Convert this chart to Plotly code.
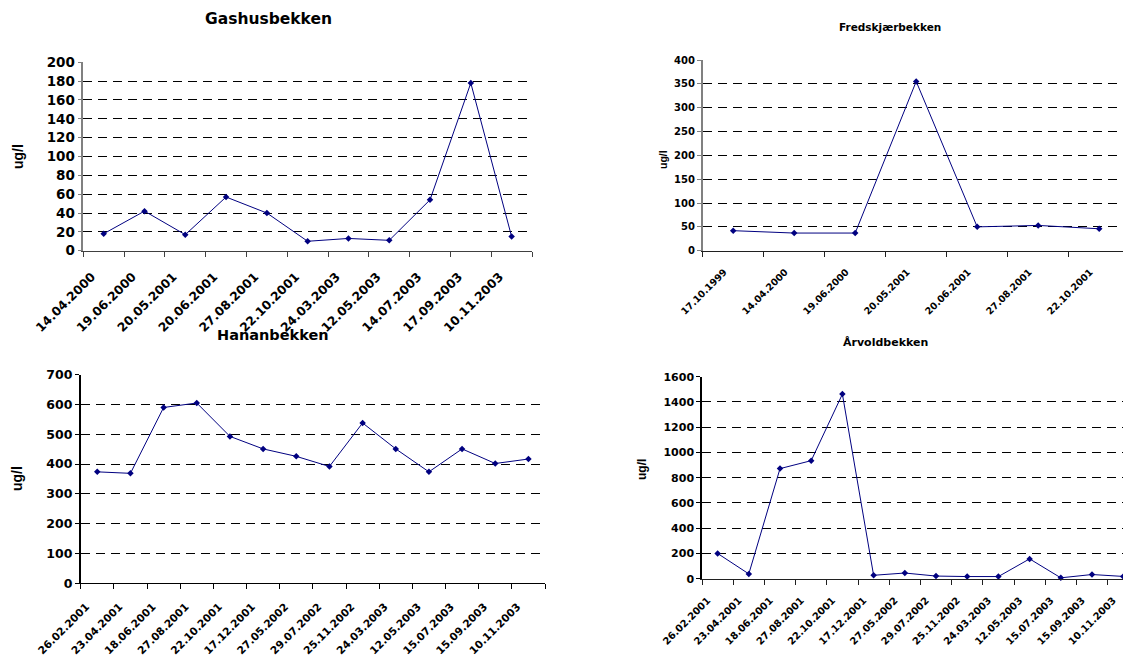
import plotly.graph_objects as go

# page body has an 8px margin, so the figure is drawn 8px in from the window corner
OX, OY = 8, 8
W, H = 1131 - OX, 657 - OY

# ---------------- data ----------------
gas_dates = ["14.04.2000", "19.06.2000", "20.05.2001", "20.06.2001", "27.08.2001", "22.10.2001",
             "24.03.2003", "12.05.2003", "14.07.2003", "17.09.2003", "10.11.2003"]
gas_vals = [18, 42, 17, 57, 40, 10, 13, 11, 54, 178, 15]

fred_dates = ["17.10.1999", "14.04.2000", "19.06.2000", "20.05.2001", "20.06.2001", "27.08.2001", "22.10.2001"]
fred_vals = [42, 37, 37, 355, 50, 53, 46]

hanan_dates = ["26.02.2001", "23.04.2001", "18.06.2001", "27.08.2001", "22.10.2001", "17.12.2001",
               "27.05.2002", "29.07.2002", "25.11.2002", "24.03.2003", "12.05.2003", "15.07.2003",
               "15.09.2003", "10.11.2003"]
hanan_vals = [374, 369, 590, 605, 493, 451, 426, 392, 538, 451, 374, 451, 402, 417]

arv_dates = ["26.02.2001", "23.04.2001", "18.06.2001", "27.08.2001", "22.10.2001", "17.12.2001",
             "27.05.2002", "29.07.2002", "25.11.2002", "24.03.2003", "12.05.2003", "15.07.2003",
             "15.09.2003", "10.11.2003"]
arv_vals = [200, 38, 872, 935, 1462, 27, 45, 21, 17, 17, 157, 7, 33, 18]

titles = ["Gashusbekken", "Fredskjærbekken", "Hananbekken", "Årvoldbekken"]
y_title = "ug/l"

# ---------------- layout helpers (window pixel coords -> paper fractions) ----------------
def px_x(x):
    return (x - OX) / W

def px_y(y):
    return 1 - (y - OY) / H

def xd(a, b):
    return [max(px_x(a), 0.0), min(px_x(b), 1.0)]

def yd(top, bottom):
    return [px_y(bottom), px_y(top)]

FONT = "DejaVu Sans"
NAVY = "#000080"

panels = [
    dict(cats=gas_dates, vals=gas_vals, xdom=(83.3, 532), ydom=(62.3, 250.7), yr=200, dt=20,
         xr=[-0.5, 10.5], fx=12.3, fy=13.5, ycol="#808080", xcol="#404040", shift=-12, stand=13),
    dict(cats=fred_dates, vals=fred_vals, xdom=(702.7, 1129.7), ydom=(60, 250.7), yr=400, dt=50,
         xr=[-0.5, 6.5], fx=9.5, fy=10, ycol="#808080", xcol="#202020", shift=-9, stand=11),
    dict(cats=hanan_dates, vals=hanan_vals, xdom=(80.7, 545), ydom=(374.7, 583.3), yr=700, dt=100,
         xr=[-0.5, 13.5], fx=10.6, fy=12.5, ycol="#000000", xcol="#000000", shift=-11, stand=12),
    dict(cats=arv_dates, vals=arv_vals, xdom=(702, 1131), ydom=(376.7, 578.7), yr=1600, dt=200,
         xr=[-0.5, 13.25], fx=9.9, fy=11, ycol="#000000", xcol="#202020", shift=-10, stand=11),
]

fig = go.Figure()
layout = dict(template="none", width=W, height=H, margin=dict(l=0, r=0, t=0, b=0, autoexpand=False),
              paper_bgcolor="white", plot_bgcolor="white", showlegend=False)

for i, p in enumerate(panels):
    n = "" if i == 0 else str(i + 1)
    fig.add_trace(go.Scatter(
        x=p["cats"], y=p["vals"], mode="lines+markers",
        line=dict(color=NAVY, width=1),
        marker=dict(symbol="diamond", size=5, color=NAVY),
        xaxis="x" + n, yaxis="y" + n, cliponaxis=False))
    layout["xaxis" + n] = dict(
        domain=xd(*p["xdom"]), anchor="y" + n, type="category", automargin=False,
        range=p["xr"], showgrid=False, zeroline=False,
        showline=True, linecolor=p["xcol"], linewidth=1.2,
        ticks="outside", tickson="boundaries", ticklen=5, tickcolor=p["xcol"],
        tickangle=-45, ticklabelshift=p["shift"], ticklabelstandoff=p["stand"],
        tickfont=dict(family=FONT, size=p["fx"], color="#000000", weight="bold"))
    layout["yaxis" + n] = dict(
        domain=yd(*p["ydom"]), anchor="x" + n, range=[0, p["yr"]], dtick=p["dt"], automargin=False,
        showgrid=True, gridcolor="#000000", gridwidth=1, griddash="9px,6px",
        zeroline=False, showline=True, linecolor=p["ycol"], linewidth=1.5,
        ticks="outside", ticklen=4, tickcolor=p["ycol"],
        tickfont=dict(family=FONT, size=p["fy"], color="#000000", weight="bold"))

annotations = []
title_pos = [(268, 19, 15.5), (890, 27, 10.5), (273, 335, 14.5), (885, 342, 11)]
for t, (x, y, s) in zip(titles, title_pos):
    annotations.append(dict(text=t, x=px_x(x), y=px_y(y), xref="paper", yref="paper",
                            xanchor="center", yanchor="middle", showarrow=False,
                            font=dict(family=FONT, size=s, color="#000000", weight="bold")))
ylab_pos = [(18, 157, 14), (663, 160, 10.5), (17, 479, 14), (642, 470, 12)]
for x, y, s in ylab_pos:
    annotations.append(dict(text=y_title, x=px_x(x), y=px_y(y), xref="paper", yref="paper",
                            xanchor="center", yanchor="middle", showarrow=False, textangle=-90,
                            font=dict(family="Liberation Sans", size=s, color="#000000", weight="bold")))
layout["annotations"] = annotations

fig.update_layout(**layout)
fig.write_html("out.html")
